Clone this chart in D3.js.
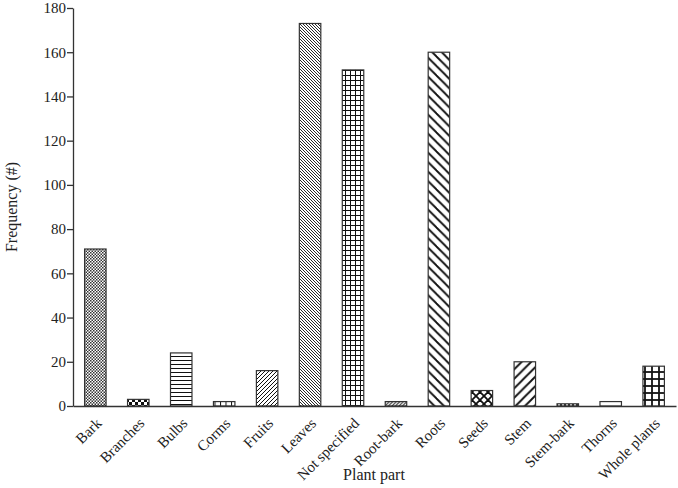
<!DOCTYPE html>
<html lang="en">
    <head>
        <meta charset="utf-8">
        <title>Plant part frequency</title>
        <script type="text/javascript" src="https://d3js.org/d3.v7.min.js"></script>
        <style>
            body {
                margin: 0;
                background: white;
            }
            text {
                font-family: "Liberation Serif", "DejaVu Serif", serif;
                fill: #222;
            }
            .axis path, .axis line {
                stroke: #333;
                stroke-width: 1.3;
            }
            .axis text {
                font-size: 15px;
            }
            .bar {
                stroke: #333;
                stroke-width: 1.2;
            }
        </style>
    </head>
    <body>
        <div id="chart"></div>
        <script type="text/javascript">
            //chart data
            const categories = ["Bark", "Branches", "Bulbs", "Corms", "Fruits", "Leaves", "Not specified",
                                "Root-bark", "Roots", "Seeds", "Stem", "Stem-bark", "Thorns", "Whole plants"];
            const frequency = [71, 3, 24, 2, 16, 173, 152, 2, 160, 7, 20, 1, 2, 18];
            const yTicks = [0, 20, 40, 60, 80, 100, 120, 140, 160, 180];

            //set svg size
            let w = 678;
            let h = 488;
            let margin = {left: 73, right: 2, top: 8, bottom: 82};

            let svg = d3.select("#chart")
                        .append("svg")
                        .attr("width", w)
                        .attr("height", h);

            //fill patterns, one per bar
            let defs = svg.append("defs");

            const addPattern = (id, size, draw) => {
                let p = defs.append("pattern")
                            .attr("id", id)
                            .attr("patternUnits", "userSpaceOnUse")
                            .attr("width", size)
                            .attr("height", size);
                p.append("rect").attr("width", size).attr("height", size).attr("fill", "white");
                draw(p, size);
            };

            const lines = (p, segs, sw) => {
                for (let s of segs) {
                    p.append("line")
                        .attr("x1", s[0]).attr("y1", s[1])
                        .attr("x2", s[2]).attr("y2", s[3])
                        .attr("stroke", "#111")
                        .attr("stroke-width", sw);
                }
            };

            //fine checker (bark)
            addPattern("p0", 3, (p) => {
                p.append("rect").attr("width", 1.5).attr("height", 1.5).attr("fill", "#333");
                p.append("rect").attr("x", 1.5).attr("y", 1.5).attr("width", 1.5).attr("height", 1.5).attr("fill", "#333");
            });
            //big checker (branches)
            addPattern("p1", 6, (p) => {
                p.append("rect").attr("y", 3).attr("width", 3).attr("height", 3).attr("fill", "#111");
                p.append("rect").attr("x", 3).attr("width", 3).attr("height", 3).attr("fill", "#111");
            });
            //horizontal lines (bulbs)
            addPattern("p2", 4, (p, s) => lines(p, [[0, 0.5, s, 0.5]], 1));
            //vertical lines (corms)
            addPattern("p3", 5.5, (p, s) => lines(p, [[0.5, 0, 0.5, s]], 1));
            //thin forward diagonal (fruits)
            addPattern("p4", 4, (p, s) => lines(p, [[0, s, s, 0], [-1, 1, 1, -1], [s - 1, s + 1, s + 1, s - 1]], 1));
            //thin back diagonal (leaves)
            addPattern("p5", 3, (p, s) => lines(p, [[0, 0, s, s], [-1, s - 1, 1, s + 1], [s - 1, -1, s + 1, 1]], 0.9));
            //fine grid (not specified)
            addPattern("p6", 5, (p, s) => lines(p, [[0, 0.5, s, 0.5], [0.5, 0, 0.5, s]], 1));
            //small forward diagonal (root-bark)
            addPattern("p7", 3.5, (p, s) => lines(p, [[0, s, s, 0], [-1, 1, 1, -1], [s - 1, s + 1, s + 1, s - 1]], 1));
            //thick back diagonal (roots)
            addPattern("p8", 9.5, (p, s) => lines(p, [[0, 0, s, s], [-2, s - 2, 2, s + 2], [s - 2, -2, s + 2, 2]], 1.9));
            //thick cross-hatch (seeds)
            addPattern("p9", 8, (p, s) => lines(p, [[0, 0, s, s], [0, s, s, 0]], 1.8));
            //thick forward diagonal (stem)
            addPattern("p10", 9.5, (p, s) => lines(p, [[0, s, s, 0], [-2, 2, 2, -2], [s - 2, s + 2, s + 2, s - 2]], 1.9));
            //dotted (stem-bark)
            addPattern("p11", 4, (p) => {
                p.append("rect").attr("width", 2).attr("height", 2).attr("fill", "#333");
            });
            //blank (thorns)
            addPattern("p12", 4, () => {});
            //thick grid (whole plants)
            addPattern("p13", 7, (p, s) => lines(p, [[0, 1, s, 1], [1, 0, 1, s]], 1.8));

            //scales
            let xScale = d3.scaleBand()
                            .domain(categories)
                            .range([margin.left, w - margin.right])
                            .paddingInner(0.5)
                            .paddingOuter(0.27);

            let yScale = d3.scaleLinear()
                            .domain([0, 180])
                            .range([h - margin.bottom, margin.top]);

            //bars
            svg.selectAll("rect.bar")
                .data(categories)
                .enter()
                .append("rect")
                .attr("class", "bar")
                .attr("x", d => xScale(d))
                .attr("y", (d, i) => yScale(frequency[i]))
                .attr("width", xScale.bandwidth())
                .attr("height", (d, i) => yScale(0) - yScale(frequency[i]))
                .attr("fill", (d, i) => `url(#p${i})`);

            //x axis
            svg.append("g")
                .attr("class", "axis axis-x")
                .attr("transform", `translate(0, ${yScale(0)})`)
                .call(d3.axisBottom(xScale).tickSize(0).tickSizeOuter(0))
                .selectAll("text")
                .style("text-anchor", "end")
                .attr("dx", "-0.1em")
                .attr("dy", "0.1em")
                .attr("transform", "translate(5, 14) rotate(-45)");

            //y axis
            svg.append("g")
                .attr("class", "axis axis-y")
                .attr("transform", `translate(${margin.left}, 0)`)
                .call(d3.axisLeft(yScale).tickValues(yTicks).tickSize(6).tickSizeOuter(0).tickPadding(1));

            //axis titles
            svg.append("text")
                .attr("transform", `translate(17, ${(yScale(0) + yScale(180)) / 2}) rotate(-90)`)
                .attr("text-anchor", "middle")
                .style("font-size", "16px")
                .text("Frequency (#)");

            svg.append("text")
                .attr("x", 374)
                .attr("y", 480)
                .attr("text-anchor", "middle")
                .style("font-size", "16px")
                .text("Plant part");
        </script>
    </body>
</html>
